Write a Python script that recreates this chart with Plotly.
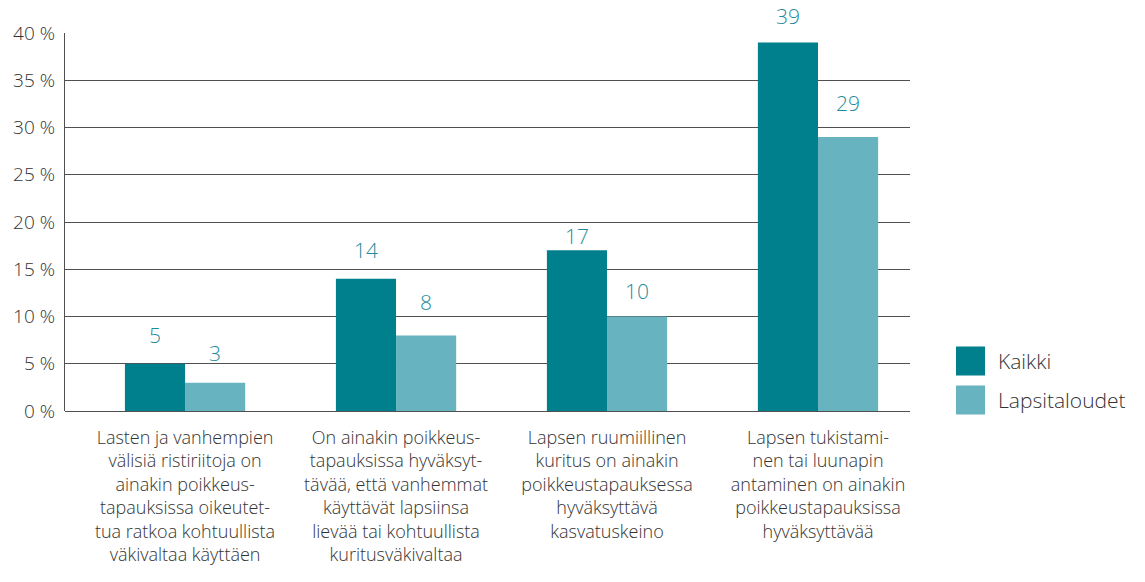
import plotly.graph_objects as go

categories = [
    "Lasten ja vanhempien<br>välisiä ristiriitoja on<br>ainakin poikkeus-<br>tapauksissa oikeutet-<br>tua ratkoa kohtuullista<br>väkivaltaa käyttäen",
    "On ainakin poikkeus-<br>tapauksissa hyväksyt-<br>tävää, että vanhemmat<br>käyttävät lapsiinsa<br>lievää tai kohtuullista<br>kuritusväkivaltaa",
    "Lapsen ruumiillinen<br>kuritus on ainakin<br>poikkeustapauksessa<br>hyväksyttävä<br>kasvatuskeino",
    "Lapsen tukistami-<br>nen tai luunapin<br>antaminen on ainakin<br>poikkeustapauksissa<br>hyväksyttävää",
]
series_names = ["Kaikki", "Lapsitaloudet"]
kaikki = [5, 14, 17, 39]
lapsitaloudet = [3, 8, 10, 29]
y_ticks = [0, 5, 10, 15, 20, 25, 30, 35, 40]
y_tick_labels = [f"{v} %" for v in y_ticks]

# label placement (pixels above bar top), styling only
label_shift_kaikki = [13, 13, -2, 10]
label_shift_lapsi = [14, 17, 10, 18]

colors = ["#007f8c", "#67b3bf"]
label_color = "#1f8c9b"
font_family = "Open Sans"

fig = go.Figure()
for name, vals, col in zip(series_names, [kaikki, lapsitaloudet], colors):
    fig.add_trace(go.Bar(x=categories, y=vals, name=name, marker_color=col,
                         marker_line_width=0, showlegend=False))

annotations = []
for vals, shift, yshifts in [(kaikki, -30, label_shift_kaikki), (lapsitaloudet, 30, label_shift_lapsi)]:
    for c, v, ys in zip(categories, vals, yshifts):
        annotations.append(dict(x=c, y=v, xref="x", yref="y", text=str(v),
                                showarrow=False, xshift=shift, yshift=ys,
                                yanchor="bottom",
                                font=dict(size=21, color=label_color, family=font_family, weight=300)))

# manual legend
leg_items = [("Kaikki", colors[0], 361), ("Lapsitaloudet", colors[1], 400)]
shapes = []
for name, col, yc in leg_items:
    shapes.append(dict(type="rect", xref="paper", yref="paper",
                       x0=(956 - 65) / 845, x1=(985 - 65) / 845,
                       y0=(411 - (yc + 14.5)) / 378, y1=(411 - (yc - 14.5)) / 378,
                       fillcolor=col, line_width=0))
    annotations.append(dict(xref="paper", yref="paper", x=(996 - 65) / 845,
                            y=(411 - yc) / 378, text=name, showarrow=False,
                            xanchor="left", yanchor="middle",
                            font=dict(size=21, color="#333333", family=font_family, weight=300)))

fig.update_layout(
    width=1145, height=582,
    margin=dict(l=65, r=235, t=33, b=171),
    paper_bgcolor="white", plot_bgcolor="white",
    barmode="group", bargap=0.43, bargroupgap=0,
    font=dict(family=font_family, color="#333333", size=17, weight=300),
    annotations=annotations, shapes=shapes,
    xaxis=dict(range=[-0.569, 3.436], showgrid=False, showline=False, ticks="",
               tickfont=dict(size=18, color="#333333"), ticklabelstandoff=14,
               fixedrange=True),
    yaxis=dict(range=[0, 40], tickvals=y_ticks, ticktext=y_tick_labels,
               showgrid=True, gridcolor="#505050", gridwidth=1.3,
               showline=True, linecolor="#505050", linewidth=1.3,
               zeroline=True, zerolinecolor="#505050", zerolinewidth=1.3,
               ticks="", tickfont=dict(size=19, color="#333333"), ticklabelstandoff=5,
               fixedrange=True),
)

fig.write_html("out.html", config={"displayModeBar": False},
               post_script="document.body.style.margin='0';document.body.style.overflow='hidden';")
